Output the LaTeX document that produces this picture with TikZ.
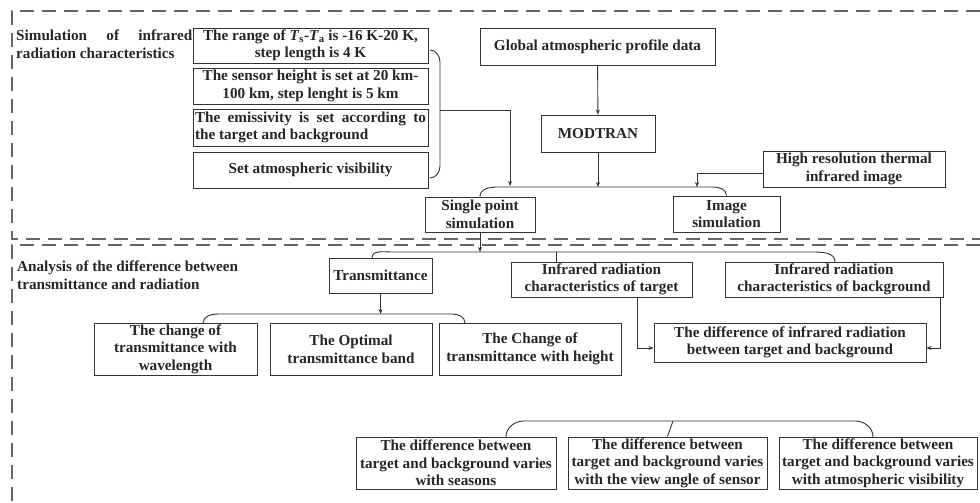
\documentclass[tikz,border=0pt]{standalone}
\usepackage{fontspec}
\setmainfont{Liberation Serif}
\usetikzlibrary{arrows.meta}
\begin{document}
\begin{tikzpicture}[x=1pt,y=-1pt,
  txt/.style={font=\bfseries\fontsize{15.2}{17.6}\selectfont, text=black!85},
  box/.style={txt, draw=black!80, line width=0.9pt, align=center, inner sep=1pt},
  conn/.style={draw=black!80, line width=0.9pt},
  arr/.style={conn, -{Stealth[length=5pt,width=4pt]}},
  dashline/.style={draw=black!60, line width=1.3pt, dash pattern=on 14pt off 8pt}]
\useasboundingbox (0,0) rectangle (980,503);

% section frames
\draw[dashline] (980,11) -- (12,11) -- (12,239) -- (980,239);
\draw[dashline] (980,245) -- (12,245) -- (12,503);

% section titles
\node[txt, anchor=north west, inner sep=0, align=left] (t1) at (16,30)
  {\makebox[176pt][s]{Simulation of infrared}\\radiation characteristics};
\node[txt, anchor=north west, inner sep=0, align=left] (t2) at (17,261)
  {Analysis of the difference between\\transmittance and radiation};

% section 1 boxes
\node[box, minimum width=235pt, minimum height=35pt] (a1) at (310.5,45.5)
  {The range of \textit{T}\textsubscript{s}-\textit{T}\textsubscript{a} is -16 K-20 K,\\step length is 4 K};
\node[box, minimum width=235pt, minimum height=36pt] (a2) at (310.5,86)
  {The sensor height is set at 20 km-\\100 km, step lenght is 5 km};
\node[box, minimum width=235pt, minimum height=37pt, align=left] (a3) at (310.5,127.5)
  {\makebox[231pt][s]{The emissivity is set according to}\\the target and background};
\node[box, minimum width=235pt, minimum height=36pt] (a4) at (310.5,170)
  {Set atmospheric visibility};
\node[box, minimum width=235pt, minimum height=37pt] (glob) at (597.5,46.5)
  {Global atmospheric profile data};
\node[box, minimum width=114pt, minimum height=37pt] (mod) at (598,133.5)
  {MODTRAN};
\node[box, minimum width=182pt, minimum height=36pt] (hr) at (854,169)
  {High resolution thermal\\infrared image};
\node[box, minimum width=110pt, minimum height=35pt] (sp) at (480,214.5)
  {Single point\\simulation};
\node[box, minimum width=107pt, minimum height=36pt] (is) at (726.5,214)
  {Image\\simulation};

% section 2 boxes
\node[box, minimum width=103pt, minimum height=35pt] (tr) at (380.5,275.5)
  {Transmittance};
\node[box, minimum width=181pt, minimum height=35pt] (irt) at (601.5,279.5)
  {Infrared radiation\\characteristics of target};
\node[box, minimum width=218pt, minimum height=35pt] (irb) at (834,279.5)
  {Infrared radiation\\characteristics of background};
\node[box, minimum width=163pt, minimum height=52pt] (b1) at (175.5,349)
  {The change of\\transmittance with\\wavelength};
\node[box, minimum width=162pt, minimum height=52pt] (b2) at (351,349)
  {The Optimal\\transmittance band};
\node[box, minimum width=182pt, minimum height=52pt] (b3) at (530,349)
  {The Change of\\transmittance with height};
\node[box, minimum width=272pt, minimum height=39pt] (d) at (790,342.5)
  {The difference of infrared radiation\\between target and background};
\node[box, minimum width=200pt, minimum height=52pt] (c1) at (456,463)
  {The difference between\\target and background varies\\with seasons};
\node[box, minimum width=199pt, minimum height=52pt] (c2) at (667.5,463)
  {The difference between\\target and background varies\\with the view angle of sensor};
\node[box, minimum width=198pt, minimum height=52pt] (c3) at (878,463)
  {The difference between\\target and background varies\\with atmospheric visibility};

% helper coordinates
\coordinate (bar1) at (598,187);
\coordinate (brc) at (440,110);
\coordinate (hrj) at (697,187);
\coordinate (bar2) at (480,252);
\coordinate (bar3) at (380.5,314);
\coordinate (tk4) at (673,421);

% brace on the settings boxes
\draw[conn] (430,50) to[out=0,in=90] (440,62) -- (440,166) to[out=-90,in=0] (430,178);
\draw[arr] (brc) -- (510,110) -- (510,186);

% section 1 connectors
\draw[arr] (glob) -- (mod);
\draw[arr] (mod) -- (bar1);
\draw[arr] ([yshift=-4pt]hr.west) -| (hrj);
\draw[conn] (sp.north) to[out=90,in=180] (497,187) -- (713,187) to[out=0,in=90] (is.north);

% section 2 connectors
\draw[arr] (sp.south) -- (bar2);
\draw[conn] (372,258) to[out=90,in=180] (392,252) -- (812,252) to[out=0,in=90] (835,262);
\draw[conn] (556,252) -- (556,262);
\draw[arr] (tr) -- (bar3);
\draw[conn] (203,323) to[out=90,in=180] (218,314) -- (452,314) to[out=0,in=90] (465,323);
\draw[arr] (637,297) -- (637,348) -- (d.west |- 0,348);
\draw[arr] (940,297) -- (940,348) -- (d.east |- 0,348);

% bottom bracket
\draw[conn] (506,437) to[out=90,in=180] (524,421) -- (855,421) to[out=0,in=90] (873,437);
\draw[conn] (tk4) -- (c2.north);
\end{tikzpicture}
\end{document}
